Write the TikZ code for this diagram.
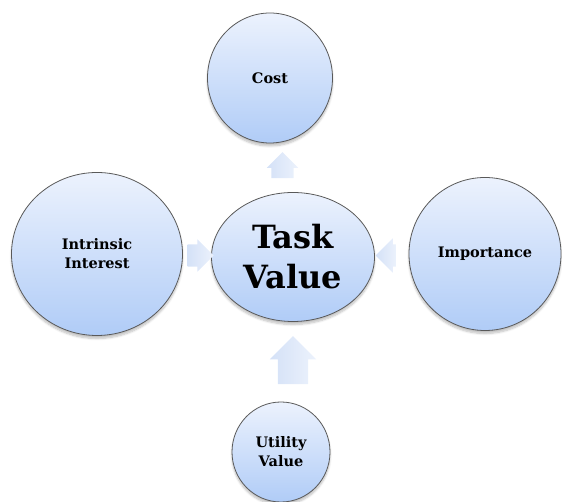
\documentclass[tikz,border=0pt]{standalone}
\usepackage{fontspec}
\setmainfont{DejaVu Serif}
\usepackage{tikz}
\usetikzlibrary{shapes.geometric,shapes.arrows,shadows.blur,calc}

\definecolor{bubbletop}{RGB}{236,242,253}
\definecolor{bubblebot}{RGB}{176,204,247}
\definecolor{arrowtail}{RGB}{212,225,247}
\definecolor{arrowtip}{RGB}{236,242,252}

\begin{document}
\begin{tikzpicture}[x=1pt,y=1pt,
	bubble/.style={ellipse, draw=black!65, line width=0.8pt, inner sep=0pt,
		top color=bubbletop, bottom color=bubblebot, font=\bfseries\fontsize{14.5}{19}\selectfont,
		align=center, blur shadow={shadow xshift=0pt, shadow yshift=-3pt, shadow opacity=25, shadow blur steps=6}},
	blockarrow/.style={single arrow, inner xsep=0pt, draw=none, single arrow head extend=#1,
		left color=arrowtail, right color=arrowtip}]
	\useasboundingbox (0,0) rectangle (562,502);
	% the five bubbles
	\node[bubble, minimum width=125, minimum height=130] (cost) at (270,424) {Cost};
	\node[bubble, minimum width=163, minimum height=129, font=\bfseries\fontsize{32}{40}\selectfont] (task) at (293,245) {Task\\Value};
	\node[bubble, minimum width=98, minimum height=100] (util) at (281,50) {Utility\\Value};
	\node[bubble, minimum width=171, minimum height=163] (intr) at (97,248) {Intrinsic\\Interest};
	\node[bubble, minimum width=152, minimum height=153] (imp) at (485,248) {Importance};
	% block arrows pointing into the middle
	\node[blockarrow=4.5pt, inner ysep=11pt, minimum height=26, rotate=90]
		(a1) at ($(task.north)!0.5!(cost.south)+(1,-3)$) {};
	\node[blockarrow=8pt, inner ysep=15pt, minimum height=48, rotate=90]
		(a2) at ($(util.north)!0.5!(task.south)+(6,-6)$) {};
	\node[blockarrow=5pt, inner ysep=11pt, minimum height=26]
		(a3) at ($(intr.east)!0.5!(task.west)+(-2,0)$) {};
	\node[blockarrow=6pt, inner ysep=11pt, minimum height=21, rotate=180]
		(a4) at ($(imp.west)!0.5!(task.east)$) {};
\end{tikzpicture}
\end{document}
